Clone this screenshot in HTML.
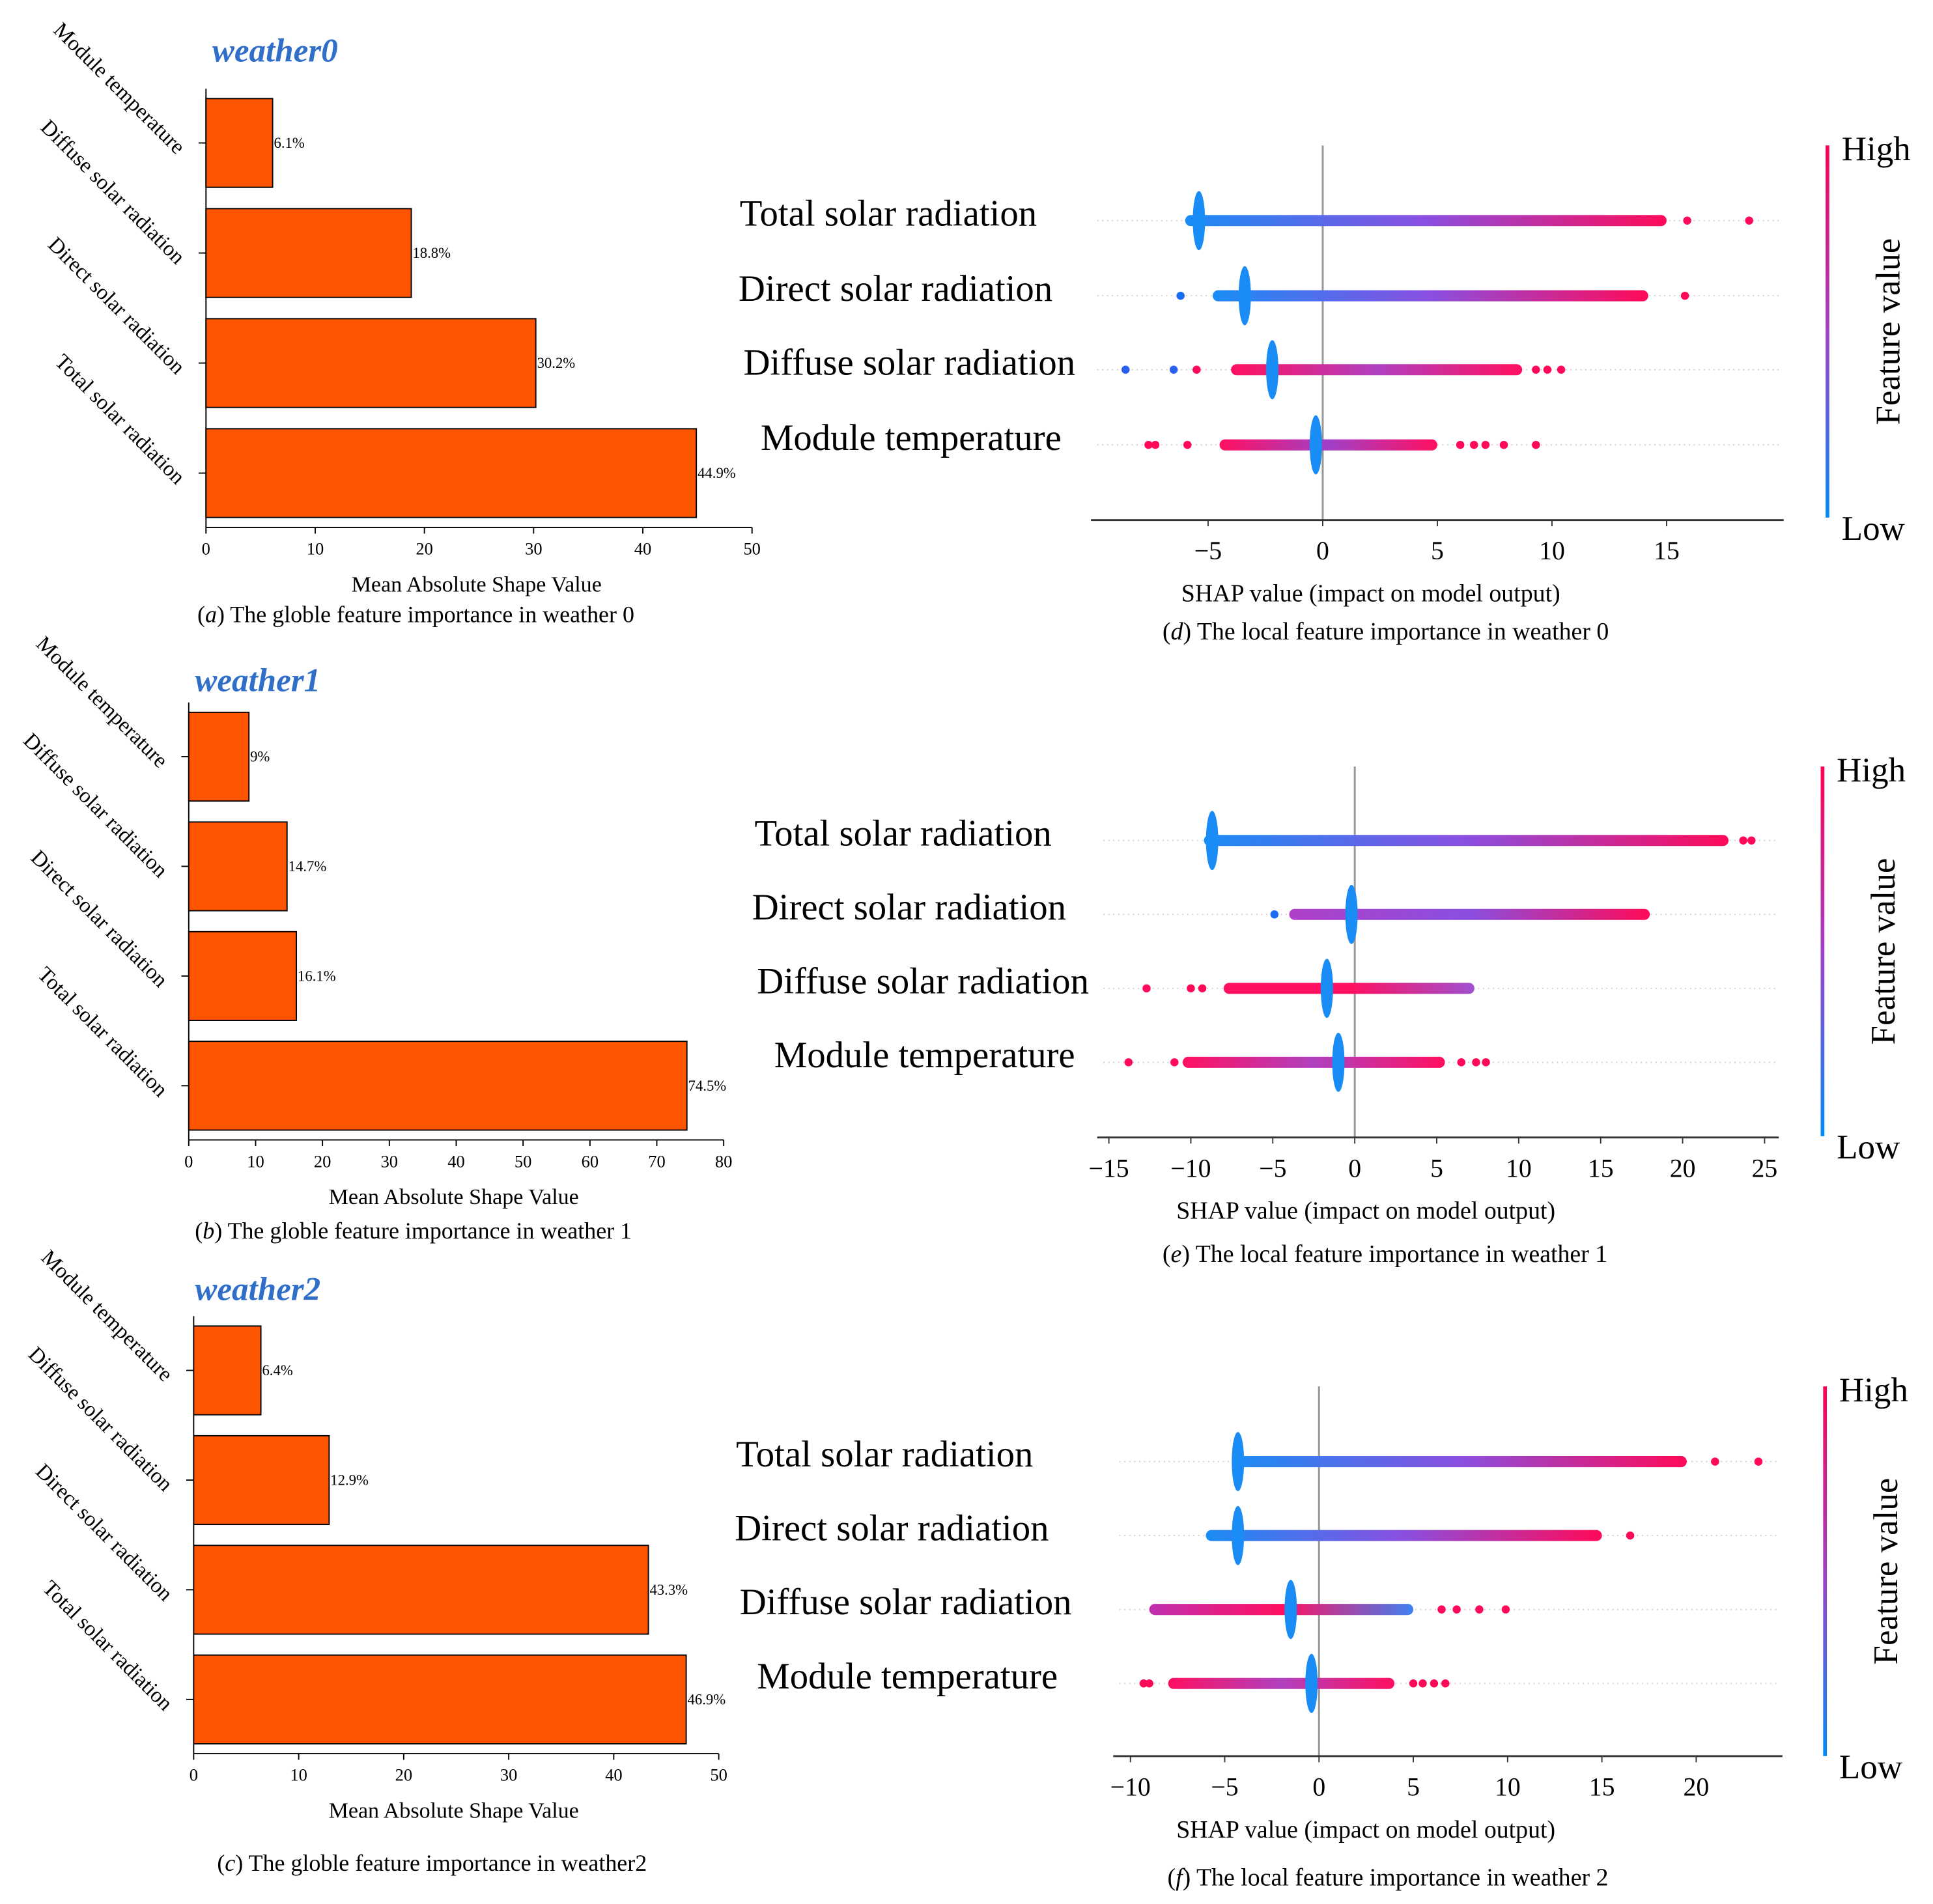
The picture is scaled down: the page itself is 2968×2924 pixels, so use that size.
<!DOCTYPE html>
<html><head><meta charset="utf-8"><style>
html,body{margin:0;padding:0;background:#fff;}
svg{display:block;}
text{font-family:"Liberation Serif",serif;}
</style></head><body>
<svg id="root" width="2968" height="2924" viewBox="0 0 1568 1545" xmlns="http://www.w3.org/2000/svg">
<defs>
<linearGradient id="cbar" x1="0" y1="0" x2="0" y2="1"><stop offset="0" stop-color="#ff0052"/><stop offset="0.5" stop-color="#a040c8"/><stop offset="1" stop-color="#008bfb"/></linearGradient>
</defs>
</svg>
<script>
const NS="http://www.w3.org/2000/svg";
const root=document.getElementById('root');
function mk(tag,attrs,parent,txt){const e=document.createElementNS(NS,tag);for(const k in attrs)e.setAttribute(k,attrs[k]);if(txt!==undefined)e.textContent=txt;(parent||root).appendChild(e);return e;}

// ---------- bar chart data ----------
const barFeatures=["Module temperature","Diffuse solar radiation","Direct solar radiation","Total solar radiation"];
const barValuesA=[6.1,18.8,30.2,44.9];
const barValuesB=[9,14.7,16.1,74.5];
const barValuesC=[6.4,12.9,43.3,46.9];
const barTicksA=[0,10,20,30,40,50];
const barTicksB=[0,10,20,30,40,50,60,70,80];
const barTicksC=[0,10,20,30,40,50];
const barLabelsA=["6.1%","18.8%","30.2%","44.9%"];
const barLabelsB=["9%","14.7%","16.1%","74.5%"];
const barLabelsC=["6.4%","12.9%","43.3%","46.9%"];

// ---------- SHAP data ----------
const shapFeatures=["Total solar radiation","Direct solar radiation","Diffuse solar radiation","Module temperature"];
const shapTicksD=[-5,0,5,10,15];
const shapTicksE=[-15,-10,-5,0,5,10,15,20,25];
const shapTicksF=[-10,-5,0,5,10,15,20];
const stripLoD=[-6,-4.8,-4,-4.5], stripHiD=[15,14.2,8.7,5], clusterD=[-5.4,-3.4,-2.2,-0.3];
const outliersD=[[15.9,18.6],[-6.2,15.8],[-8.6,-6.5,-5.5,9.3,9.8,10.4],[-7.6,-7.3,-5.9,6,6.6,7.1,7.9,9.3]];
const stripLoE=[-9.2,-4,-8,-10.5], stripHiE=[22.8,18,7.3,5.5], clusterE=[-8.7,-0.2,-1.7,-1];
const outliersE=[[23.7,24.2],[-4.9],[-12.7,-10,-9.3],[-13.8,-11,6.5,7.4,8]];
const stripLoF=[-4.5,-6,-9,-8], stripHiF=[19.5,15,5,4], clusterF=[-4.3,-4.3,-1.5,-0.4];
const outliersF=[[21,23.3],[16.5],[6.5,7.3,8.5,9.9],[-9.3,-9,5,5.5,6.1,6.7]];
const stripColors=[["#1a8cf5","#8a4fe0","#ff0a58"],["#1a8cf5","#8a4fe0","#ff0a58"],["#ff1060","#b040c0","#ff1060"],["#ff1060","#a040c8","#ff1060"]];
const stripColorsE=[["#1a8cf5","#8a4fe0","#ff0a58"],["#b040c8","#8a4fe0","#ff0a58"],["#ff1060","#ff1060","#a050d0"],["#ff1060","#b040c0","#ff1060"]];
const stripColorsF=[["#1a8cf5","#8a4fe0","#ff0a58"],["#1a8cf5","#8a4fe0","#ff0a58"],["#c030b0","#ff1060","#4080f0"],["#ff1060","#b040c0","#ff1060"]];

function barChart(cfg){
  const g=mk('g',{});
  
  
  const xs=v=>cfg.x0+(v-cfg.ticks[0])/(cfg.ticks[cfg.ticks.length-1]-cfg.ticks[0])*(cfg.x1-cfg.x0);
  const t=mk('text',{x:cfg.titleX,y:cfg.titleY,'font-size':27,'font-weight':'bold','font-style':'italic',fill:'#2f6fc9'},g,cfg.title);
  
  mk('line',{x1:cfg.x0,y1:cfg.top,x2:cfg.x0,y2:cfg.axisY,stroke:'#000','stroke-width':1},g);
  const ax=mk('line',{x1:cfg.x0,y1:cfg.axisY,x2:cfg.x1,y2:cfg.axisY,stroke:'#000','stroke-width':1},g);
  
  cfg.ticks.forEach(v=>{
    mk('line',{x1:xs(v),y1:cfg.axisY,x2:xs(v),y2:cfg.axisY+5,stroke:'#000'},g);
    const tl=mk('text',{x:xs(v),y:cfg.axisY+22,'font-size':14,'text-anchor':'middle'},g,String(v));
    
  });
  cfg.values.forEach((v,i)=>{
    const cy=cfg.rowY0+i*cfg.rowStep;
    const r=mk('rect',{x:cfg.x0,y:cy-36,width:xs(v)-cfg.x0,height:72,fill:'#ff5500',stroke:'#000','stroke-width':1},g);
    
    
    mk('line',{x1:cfg.x0-6,y1:cy,x2:cfg.x0,y2:cy,stroke:'#000'},g);
    const vl=mk('text',{x:xs(v)+1,y:cy+4,'font-size':12},g,cfg.labels[i]);
    
    const ex=cfg.x0-24, ey=cy+10;
    const fl=mk('text',{x:ex,y:ey,'font-size':17.5,'text-anchor':'end',transform:`rotate(45 ${ex} ${ey})`},g,barFeatures[i]);
    
  });
  const xt=mk('text',{x:(cfg.x0+cfg.x1)/2-2,y:cfg.axisY+52,'font-size':18,'text-anchor':'middle'},g,'Mean Absolute Shape Value');
  
  const cap=mk('text',{x:cfg.capX,y:cfg.capY,'font-size':19},g);
  
  mk('tspan',{},cap,'(');mk('tspan',{'font-style':'italic'},cap,cfg.letter);mk('tspan',{},cap,') '+cfg.caption);
}

function shapChart(cfg){
  const g=mk('g',{});
  
  
  const xs=v=>cfg.zero+v*cfg.ppu;
  cfg.rows.forEach((ry)=>mk('line',{x1:cfg.axL+5,y1:ry,x2:cfg.axR-2,y2:ry,stroke:'#ccc','stroke-width':1,'stroke-dasharray':'1 3'},g));
  const zl=mk('line',{x1:xs(0),y1:cfg.zTop,x2:xs(0),y2:cfg.axisY,stroke:'#999','stroke-width':1.6},g);
  
  const ax=mk('line',{x1:cfg.axL,y1:cfg.axisY,x2:cfg.axR,y2:cfg.axisY,stroke:'#333','stroke-width':1.5},g);
  
  cfg.ticks.forEach(v=>{
    mk('line',{x1:xs(v),y1:cfg.axisY,x2:xs(v),y2:cfg.axisY+5,stroke:'#333'},g);
    const tl=mk('text',{x:xs(v),y:cfg.axisY+32,'font-size':21,'text-anchor':'middle'},g,(v<0?'\u2212':'')+Math.abs(v));
    
  });
  shapFeatures.forEach((f,i)=>{
    const ry=cfg.rows[i];
    const gid=cfg.name+'-g'+i;
    const lg=mk('linearGradient',{id:gid,x1:xs(cfg.lo[i]),x2:xs(cfg.hi[i]),y1:0,y2:0,gradientUnits:'userSpaceOnUse'},root.querySelector('defs'));
    const c=cfg.colors[i];
    mk('stop',{offset:0,'stop-color':c[0]},lg);mk('stop',{offset:0.5,'stop-color':c[1]},lg);mk('stop',{offset:1,'stop-color':c[2]},lg);
    const s=mk('rect',{x:xs(cfg.lo[i]),y:ry-4.5,width:xs(cfg.hi[i])-xs(cfg.lo[i]),height:9,rx:4.5,fill:`url(#${gid})`},g);
    
    const cl=mk('ellipse',{cx:xs(cfg.cl[i]),cy:ry,rx:5,ry:24,fill:'#1a8cf5'},g);
    
    cfg.out[i].forEach(v=>{
      const col=(v<0&&i<2)?'#1a6cf0':'#ff0a58';
      const d=mk('circle',{cx:xs(v),cy:ry,r:3.3,fill:(i===2&&cfg.name==='shap-d'&&v<-6)?'#2a5ff0':col},g);
      
    });
    const fl=mk('text',{x:cfg.labX[i],y:ry+4,'font-size':30},g,f);
    
  });
  const xt=mk('text',{x:cfg.titleX,y:cfg.axisY+66,'font-size':20,'text-anchor':'middle'},g,'SHAP value (impact on model output)');
  
  const cap=mk('text',{x:cfg.capX,y:cfg.capY,'font-size':20},g);
  
  mk('tspan',{},cap,'(');mk('tspan',{'font-style':'italic'},cap,cfg.letter);mk('tspan',{},cap,') The local feature importance in weather '+cfg.w);
  const cb=mk('rect',{x:cfg.cbX,y:cfg.cbTop,width:3,height:cfg.cbH,fill:'url(#cbar)'},g);
  
  const hi=mk('text',{x:cfg.cbX+13,y:cfg.cbTop+12,'font-size':28},g,'High');
  
  const lo=mk('text',{x:cfg.cbX+13,y:cfg.cbTop+cfg.cbH+18,'font-size':28},g,'Low');
  
  const cy=cfg.cbTop+cfg.cbH/2;
  const fv=mk('text',{x:cfg.cbX+60,y:cy,'font-size':28,'text-anchor':'middle',transform:`rotate(-90 ${cfg.cbX+60} ${cy})`},g,'Feature value');
  
}

barChart({name:'bar-chart-weather0',title:'weather0',titleX:172,titleY:50,x0:167,x1:610,top:72,axisY:428,rowY0:116,rowStep:89.3,values:barValuesA,labels:barLabelsA,ticks:barTicksA,capX:160,capY:505,letter:'a',caption:'The globle feature importance in weather 0'});
barChart({name:'bar-chart-weather1',title:'weather1',titleX:158,titleY:561,x0:153,x1:587,top:570,axisY:925,rowY0:614,rowStep:89,values:barValuesB,labels:barLabelsB,ticks:barTicksB,capX:158,capY:1005,letter:'b',caption:'The globle feature importance in weather 1'});
barChart({name:'bar-chart-weather2',title:'weather2',titleX:158,titleY:1055,x0:157,x1:583,top:1068,axisY:1423,rowY0:1112,rowStep:89,values:barValuesC,labels:barLabelsC,ticks:barTicksC,capX:176,capY:1518,letter:'c',caption:'The globle feature importance in weather2'});

shapChart({name:'shap-d',w:0,letter:'d',zero:1073,ppu:18.6,axL:885,axR:1447,axisY:422,zTop:118,rows:[179,240,300,361],ticks:shapTicksD,lo:stripLoD,hi:stripHiD,cl:clusterD,out:outliersD,colors:stripColors,labX:[600,599,603,617],titleX:1112,capX:943,capY:519,cbX:1481,cbTop:118,cbH:302});
shapChart({name:'shap-e',w:1,letter:'e',zero:1099,ppu:13.3,axL:890,axR:1443,axisY:923,zTop:622,rows:[682,742,802,862],ticks:shapTicksE,lo:stripLoE,hi:stripHiE,cl:clusterE,out:outliersE,colors:stripColorsE,labX:[612,610,614,628],titleX:1108,capX:943,capY:1024,cbX:1477,cbTop:622,cbH:300});
shapChart({name:'shap-f',w:2,letter:'f',zero:1070,ppu:15.3,axL:903,axR:1446,axisY:1425,zTop:1125,rows:[1186,1246,1306,1366],ticks:shapTicksF,lo:stripLoF,hi:stripHiF,cl:clusterF,out:outliersF,colors:stripColorsF,labX:[597,596,600,614],titleX:1108,capX:947,capY:1530,cbX:1479,cbTop:1125,cbH:300});
</script>
</body></html>
